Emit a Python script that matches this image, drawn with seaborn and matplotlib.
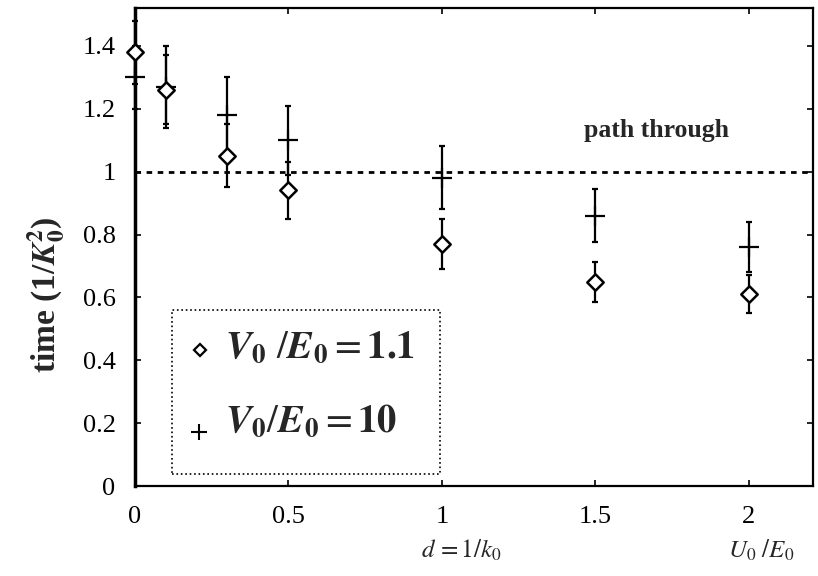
import matplotlib
matplotlib.use("Agg")
import matplotlib.pyplot as plt
import seaborn as sns
import pandas as pd
from matplotlib.patches import Rectangle

# data
x_low = [0.0, 0.1, 0.3, 0.5, 1.0, 1.5, 2.0]
y_low = [1.38, 1.26, 1.05, 0.94, 0.77, 0.65, 0.61]
e_low = [0.10, 0.11, 0.10, 0.09, 0.08, 0.063, 0.06]

x_high = [0.0, 0.1, 0.3, 0.5, 1.0, 1.5, 2.0]
y_high = [1.30, 1.27, 1.18, 1.10, 0.98, 0.86, 0.76]
e_high = [0.10, 0.13, 0.12, 0.11, 0.10, 0.085, 0.08]

xticks = [0, 0.5, 1, 1.5, 2]
xticklabels = ["0", "0.5", "1", "1.5", "2"]
yticks = [0, 0.2, 0.4, 0.6, 0.8, 1.0, 1.2, 1.4]
yticklabels = ["0", "0.2", "0.4", "0.6", "0.8", "1", "1.2", "1.4"]

legend_labels = [r"$\mathbfit{V}_{\mathbf{0}}\ /\mathbfit{E}_{\mathbf{0}} = \mathbf{1.1}$",
                 r"$\mathbfit{V}_{\mathbf{0}}/\mathbfit{E}_{\mathbf{0}} = \mathbf{10}$"]

sns.set_theme(style="ticks")
plt.rcParams["font.family"] = ["Liberation Serif", "DejaVu Serif"]
plt.rcParams["mathtext.fontset"] = "stix"

fig = plt.figure(figsize=(8.18, 5.76), dpi=100)
ax = fig.add_axes([0.165, 0.156, 0.829, 0.830])

df_low = pd.DataFrame({"x": x_low, "y": y_low})
df_high = pd.DataFrame({"x": x_high, "y": y_high})

ax.errorbar(x_high, y_high, yerr=e_high, fmt="none", ecolor="black",
            elinewidth=1.6, capsize=2.5, capthick=1.6, clip_on=False, zorder=3)
ax.errorbar(x_low, y_low, yerr=e_low, fmt="none", ecolor="black",
            elinewidth=1.6, capsize=2.5, capthick=1.6, clip_on=False, zorder=3)

sns.scatterplot(data=df_high, x="x", y="y", marker="+", s=200, color="black",
                linewidth=1.6, ax=ax, zorder=4, clip_on=False)
sns.scatterplot(data=df_low, x="x", y="y", marker="D", s=70, facecolor="white",
                edgecolor="black", linewidth=1.8, ax=ax, zorder=5, clip_on=False)

ax.axhline(1.0, color="black", linestyle=(0, (2, 2)), linewidth=2, zorder=2)
ax.text(1.70, 1.13, "path through", fontsize=18.5, fontweight="bold",
        ha="center", va="center")

ax.set_xlim(0, 2.21)
ax.set_ylim(0, 1.52)
ax.set_xticks(xticks)
ax.set_xticklabels(xticklabels)
ax.set_yticks(yticks)
ax.set_yticklabels(yticklabels)
ax.tick_params(direction="in", length=4, width=1.2, top=True, right=True,
               labelsize=19, colors="black")
ax.tick_params(axis="x", pad=14)
ax.tick_params(axis="y", pad=14)
for sp in ax.spines.values():
    sp.set_color("black")
    sp.set_linewidth(1.6)
ax.spines["left"].set_linewidth(2.5)

ax.set_xlabel("")
ax.set_ylabel(r"time (1/$\mathbfit{K}_{\mathbf{0}}^{\mathbf{2}}$)", fontsize=24,
              fontweight="bold")
ax.yaxis.set_label_coords(-0.10, 0.40)

ax.text(1.065, -0.134, r"$d\,=1/k_0$", fontsize=18, ha="center", va="center",
        transform=ax.get_xaxis_transform())
ax.text(2.04, -0.134, r"$U_0\ /E_0$", fontsize=18, ha="center", va="center",
        transform=ax.get_xaxis_transform())

# legend box (drawn manually)
ax.add_patch(Rectangle((0.0546, 0.025), 0.395, 0.343, transform=ax.transAxes,
                       facecolor="white", edgecolor="black", linestyle=":",
                       linewidth=1.2, zorder=6))
ax.plot([0.096], [0.285], marker="D", markersize=6.5, markerfacecolor="white",
        markeredgecolor="black", markeredgewidth=1.6, linestyle="none",
        transform=ax.transAxes, zorder=7)
ax.plot([0.094], [0.113], marker="+", markersize=11, color="black",
        markeredgewidth=1.5, linestyle="none", transform=ax.transAxes, zorder=7)
ax.text(0.133, 0.268, legend_labels[0], fontsize=28, ha="left", va="baseline",
        transform=ax.transAxes, zorder=7)
ax.text(0.133, 0.113, legend_labels[1], fontsize=28, ha="left", va="baseline",
        transform=ax.transAxes, zorder=7)

fig.savefig("out.png", dpi=100)
